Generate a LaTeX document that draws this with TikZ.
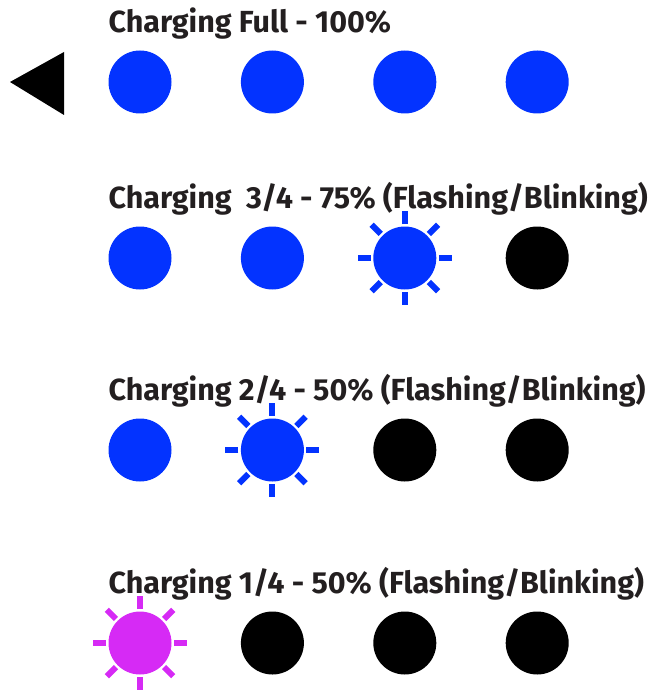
\documentclass[tikz,border=0pt]{standalone}
\usepackage{fontspec}
\setmainfont{Fira Sans}
\usepackage{tikz}
\usetikzlibrary{positioning}
\definecolor{ledblue}{RGB}{3,51,255}
\definecolor{ledpink}{RGB}{214,42,245}
\definecolor{inkgray}{RGB}{35,31,32}
\tikzset{
    led/.style={
           circle,
           minimum size=63pt,
           inner sep=0pt,
           },
     ledon/.style={
           led,
           fill=ledblue,
           },
     ledoff/.style={
           led,
           fill=black,
           },
     ledpinkon/.style={
           led,
           fill=ledpink,
           },
     caption/.style={
           text=inkgray,
           font=\fontsize{30.5}{36}\selectfont\bfseries,
           inner sep=0pt,
           anchor=base west,
           },
     ray/.style={
           line width=6pt,
           line cap=butt,
           },
}
% rays round a flashing led
\newcommand{\blinkrays}[2]{%
    \foreach \a in {0,45,...,315}
        \draw[ray, #2] ([shift={(\a:34pt)}]#1.center) -- ([shift={(\a:47pt)}]#1.center);
}

\begin{document}
\begin{tikzpicture}[x=1pt, y=-1pt, node distance=69pt and 69pt]
	\useasboundingbox (0,0) rectangle (655,695);

	% full
	\node[ledon] (a1) at (140,82) {};
	\node[ledon, right=of a1] (a2) {};
	\node[ledon, right=of a2] (a3) {};
	\node[ledon, right=of a3] (a4) {};
	\node[caption] (capa) at ([yshift=17.5pt]a1.north -| a1.west) {Charging Full - 100\%};
	\coordinate (tip) at (10,82);
	\fill[black] (tip) -- ++(54,-30) -- ++(0,63) -- cycle;

	% 3/4
	\node[ledon] (b1) at (140,258) {};
	\node[ledon, right=of b1] (b2) {};
	\node[ledon, right=of b2] (b3) {};
	\node[ledoff, right=of b3] (b4) {};
	\node[caption] (capb) at ([yshift=17.5pt]b1.north -| b1.west) {Charging\ \ 3/4 - 75\% (Flashing/Blinking)};
	\blinkrays{b3}{ledblue}

	% 2/4
	\node[ledon] (c1) at (140,450) {};
	\node[ledon, right=of c1] (c2) {};
	\node[ledoff, right=of c2] (c3) {};
	\node[ledoff, right=of c3] (c4) {};
	\node[caption] (capc) at ([yshift=17.5pt]c1.north -| c1.west) {Charging 2/4 - 50\% (Flashing/Blinking)};
	\blinkrays{c2}{ledblue}

	% 1/4
	\node[ledpinkon] (d1) at (140,643) {};
	\node[ledoff, right=of d1] (d2) {};
	\node[ledoff, right=of d2] (d3) {};
	\node[ledoff, right=of d3] (d4) {};
	\node[caption] (capd) at ([yshift=17.5pt]d1.north -| d1.west) {Charging 1/4 - 50\% (Flashing/Blinking)};
	\blinkrays{d1}{ledpink}

\end{tikzpicture}
\end{document}
